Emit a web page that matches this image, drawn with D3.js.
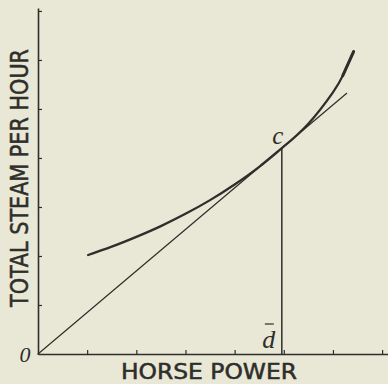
<!DOCTYPE html>
<html>
<head>
<meta charset="utf-8">
<script src="https://cdn.jsdelivr.net/npm/d3@7"></script>
<style>
  html, body { margin: 0; padding: 0; background: #e9e7d6; }
  svg { display: block; }
</style>
</head>
<body>
<svg id="chart" width="388" height="384"></svg>
<script>
// Steam consumption curve (total steam per hour vs horse power)
const horsePower = [1.02, 1.5, 2.0, 2.5, 3.0, 3.5, 4.0, 4.5, 4.96, 5.5, 6.0, 6.2, 6.42];
const totalSteam = [2.02, 2.19, 2.39, 2.61, 2.86, 3.14, 3.46, 3.82, 4.20, 4.70, 5.34, 5.68, 6.17];

// Point of tangency c and the end of the tangent line drawn from the origin
const pointC = [4.96, 4.20];
const tangentEnd = [6.28, 5.32];

const xTicks = [1, 2, 3, 4, 5, 6, 7];
const yTicks = [1, 2, 3, 4, 5, 6, 7];

const xTitle = "HORSE POWER";
const yTitle = "TOTAL STEAM PER HOUR";

const ink = "#2e2e2a";
const svg = d3.select("#chart");

const x = d3.scaleLinear().domain([0, 7.12]).range([38, 388]);
const y = d3.scaleLinear().domain([0, 7.06]).range([354, 8]);

// Axes with short inward ticks
svg.append("g")
  .attr("transform", `translate(0,${y(0)})`)
  .call(d3.axisBottom(x).tickValues(xTicks).tickSize(-4).tickSizeOuter(0).tickFormat(""))
  .call(g => g.select(".domain").attr("stroke", ink).attr("stroke-width", 1.6))
  .call(g => g.selectAll(".tick line").attr("stroke", ink).attr("stroke-width", 1.2));

svg.append("g")
  .attr("transform", `translate(${x(0)},0)`)
  .call(d3.axisLeft(y).tickValues(yTicks).tickSize(-4).tickSizeOuter(0).tickFormat(""))
  .call(g => g.select(".domain").attr("stroke", ink).attr("stroke-width", 1.6))
  .call(g => g.selectAll(".tick line").attr("stroke", ink).attr("stroke-width", 1.2));

// Tangent line from the origin through c
svg.append("line")
  .attr("x1", x(0)).attr("y1", y(0))
  .attr("x2", x(tangentEnd[0])).attr("y2", y(tangentEnd[1]))
  .attr("stroke", ink).attr("stroke-width", 1.2).attr("stroke-linecap", "round");

// Ordinate c–d
svg.append("line")
  .attr("x1", x(pointC[0])).attr("y1", y(pointC[1]))
  .attr("x2", x(pointC[0])).attr("y2", y(0))
  .attr("stroke", ink).attr("stroke-width", 1.5);

// Steam curve
const curvePts = horsePower.map((h, i) => [h, totalSteam[i]]);
const line = d3.line().x(d => x(d[0])).y(d => y(d[1])).curve(d3.curveNatural);
svg.append("path")
  .datum(curvePts)
  .attr("d", line)
  .attr("fill", "none")
  .attr("stroke", ink)
  .attr("stroke-width", 2.3)
  .attr("stroke-linecap", "round");
// heavier pen stroke at the upper end
svg.append("path")
  .datum(curvePts.slice(-2))
  .attr("d", line)
  .attr("fill", "none")
  .attr("stroke", ink)
  .attr("stroke-width", 3.0)
  .attr("stroke-linecap", "round");

// Letters
svg.append("text")
  .attr("x", x(pointC[0]) - 4).attr("y", y(pointC[1]) - 4)
  .attr("text-anchor", "middle")
  .attr("font-family", "Liberation Serif, serif").attr("font-style", "italic")
  .attr("font-size", 25).attr("fill", ink)
  .text("c");

svg.append("text")
  .attr("x", x(pointC[0]) - 13).attr("y", y(0) - 6)
  .attr("text-anchor", "middle")
  .attr("font-family", "Liberation Serif, serif").attr("font-style", "italic")
  .attr("font-size", 26).attr("fill", ink)
  .text("d");
svg.append("line")
  .attr("x1", x(pointC[0]) - 17).attr("x2", x(pointC[0]) - 8)
  .attr("y1", y(0) - 30).attr("y2", y(0) - 30)
  .attr("stroke", ink).attr("stroke-width", 1.2);

svg.append("text")
  .attr("x", x(0) - 13).attr("y", y(0) + 8)
  .attr("text-anchor", "middle")
  .attr("font-family", "Liberation Serif, serif").attr("font-style", "italic")
  .attr("font-size", 22).attr("fill", ink)
  .text("0");

// Axis titles
svg.append("text")
  .attr("x", 209).attr("y", 379)
  .attr("text-anchor", "middle")
  .attr("font-family", "Liberation Sans Narrow, DejaVu Sans Condensed, sans-serif")
  .attr("font-size", 22).attr("fill", ink)
  .attr("stroke", ink).attr("stroke-width", 0.5)
  .attr("textLength", 176).attr("lengthAdjust", "spacingAndGlyphs")
  .text(xTitle);

svg.append("text")
  .attr("transform", "translate(28,178) rotate(-90)")
  .attr("text-anchor", "middle")
  .attr("font-family", "Liberation Sans Narrow, DejaVu Sans Condensed, sans-serif")
  .attr("font-size", 24).attr("fill", ink)
  .attr("stroke", ink).attr("stroke-width", 0.5)
  .attr("textLength", 258).attr("lengthAdjust", "spacingAndGlyphs")
  .text(yTitle);
</script>
</body>
</html>
